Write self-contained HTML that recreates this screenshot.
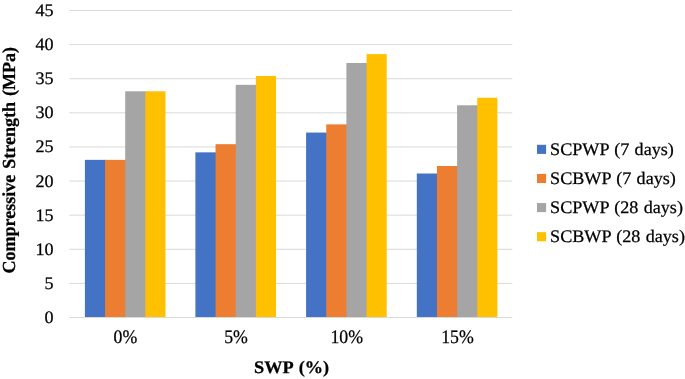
<!DOCTYPE html>
<html><head><meta charset="utf-8"><title>Chart</title>
<style>
html,body{margin:0;padding:0;background:#fff;}
body{width:685px;height:379px;overflow:hidden;}
svg{display:block;}
text{font-family:"Liberation Serif","Times New Roman",serif;fill:#000;text-rendering:geometricPrecision;stroke:#000;stroke-width:0.25px;}
.t{font-size:17.6px;}
.b{font-size:17.6px;font-weight:bold;word-spacing:1.4px;}

.x{font-size:19.05px;}
.l{font-size:17.6px;word-spacing:0.8px;}
</style></head><body>
<svg width="685" height="379" viewBox="0 0 685 379">
<rect width="685" height="379" fill="#fff"/>
<line x1="69.5" x2="512.3" y1="10.50" y2="10.50" stroke="#D9D9D9" stroke-width="1"/>
<line x1="69.5" x2="512.3" y1="44.61" y2="44.61" stroke="#D9D9D9" stroke-width="1"/>
<line x1="69.5" x2="512.3" y1="78.72" y2="78.72" stroke="#D9D9D9" stroke-width="1"/>
<line x1="69.5" x2="512.3" y1="112.83" y2="112.83" stroke="#D9D9D9" stroke-width="1"/>
<line x1="69.5" x2="512.3" y1="146.94" y2="146.94" stroke="#D9D9D9" stroke-width="1"/>
<line x1="69.5" x2="512.3" y1="181.06" y2="181.06" stroke="#D9D9D9" stroke-width="1"/>
<line x1="69.5" x2="512.3" y1="215.17" y2="215.17" stroke="#D9D9D9" stroke-width="1"/>
<line x1="69.5" x2="512.3" y1="249.28" y2="249.28" stroke="#D9D9D9" stroke-width="1"/>
<line x1="69.5" x2="512.3" y1="283.39" y2="283.39" stroke="#D9D9D9" stroke-width="1"/>
<line x1="69.5" x2="512.3" y1="317.50" y2="317.50" stroke="#D9D9D9" stroke-width="1"/>
<rect x="84.90" y="159.86" width="21.15" height="157.14" fill="#4472C4"/>
<rect x="105.05" y="159.86" width="21.15" height="157.14" fill="#ED7D31"/>
<rect x="125.20" y="91.29" width="21.15" height="225.71" fill="#A5A5A5"/>
<rect x="145.35" y="91.29" width="20.15" height="225.71" fill="#FFC000"/>
<rect x="195.40" y="152.35" width="21.15" height="164.65" fill="#4472C4"/>
<rect x="215.55" y="144.17" width="21.15" height="172.83" fill="#ED7D31"/>
<rect x="235.70" y="84.81" width="21.15" height="232.19" fill="#A5A5A5"/>
<rect x="255.85" y="75.94" width="20.15" height="241.06" fill="#FFC000"/>
<rect x="306.10" y="132.57" width="21.15" height="184.43" fill="#4472C4"/>
<rect x="326.25" y="124.38" width="21.15" height="192.62" fill="#ED7D31"/>
<rect x="346.40" y="62.98" width="21.15" height="254.02" fill="#A5A5A5"/>
<rect x="366.55" y="54.11" width="20.15" height="262.89" fill="#FFC000"/>
<rect x="416.80" y="173.50" width="21.15" height="143.50" fill="#4472C4"/>
<rect x="436.95" y="166.00" width="21.15" height="151.00" fill="#ED7D31"/>
<rect x="457.10" y="105.28" width="21.15" height="211.72" fill="#A5A5A5"/>
<rect x="477.25" y="97.77" width="20.15" height="219.23" fill="#FFC000"/>
<text transform="translate(53.60,16.00) scale(1.03,1)" text-anchor="end" class="t">45</text>
<text transform="translate(53.60,50.11) scale(1.03,1)" text-anchor="end" class="t">40</text>
<text transform="translate(53.60,84.22) scale(1.03,1)" text-anchor="end" class="t">35</text>
<text transform="translate(53.60,118.33) scale(1.03,1)" text-anchor="end" class="t">30</text>
<text transform="translate(53.60,152.44) scale(1.03,1)" text-anchor="end" class="t">25</text>
<text transform="translate(53.60,186.56) scale(1.03,1)" text-anchor="end" class="t">20</text>
<text transform="translate(53.60,220.67) scale(1.03,1)" text-anchor="end" class="t">15</text>
<text transform="translate(53.60,254.78) scale(1.03,1)" text-anchor="end" class="t">10</text>
<text transform="translate(53.60,288.89) scale(1.03,1)" text-anchor="end" class="t">5</text>
<text transform="translate(53.60,323.00) scale(1.03,1)" text-anchor="end" class="t">0</text>
<text transform="translate(125.35,343.00) scale(0.934,1)" text-anchor="middle" class="x">0%</text>
<text transform="translate(236.05,343.00) scale(0.934,1)" text-anchor="middle" class="x">5%</text>
<text transform="translate(346.75,343.00) scale(0.934,1)" text-anchor="middle" class="x">10%</text>
<text transform="translate(457.45,343.00) scale(0.934,1)" text-anchor="middle" class="x">15%</text>
<text transform="translate(291.60,372.80) scale(1.039,1)" text-anchor="middle" class="b">SWP (%)</text>
<text transform="translate(15.30,160.30) rotate(-90) scale(1.0245,1.045)" text-anchor="middle" class="b">Compressive Strength (MPa)</text>
<rect x="537" y="144.80" width="9.1" height="9.1" fill="#4472C4"/>
<text transform="translate(550.05,154.90) scale(1.03,1)" text-anchor="start" class="l">SCPWP (7 days)</text>
<rect x="537" y="173.92" width="9.1" height="9.1" fill="#ED7D31"/>
<text transform="translate(550.05,184.02) scale(1.03,1)" text-anchor="start" class="l">SCBWP (7 days)</text>
<rect x="537" y="203.04" width="9.1" height="9.1" fill="#A5A5A5"/>
<text transform="translate(550.05,213.14) scale(1.03,1)" text-anchor="start" class="l">SCPWP (28 days)</text>
<rect x="537" y="232.16" width="9.1" height="9.1" fill="#FFC000"/>
<text transform="translate(550.05,242.26) scale(1.03,1)" text-anchor="start" class="l">SCBWP (28 days)</text>
</svg>
</body></html>
